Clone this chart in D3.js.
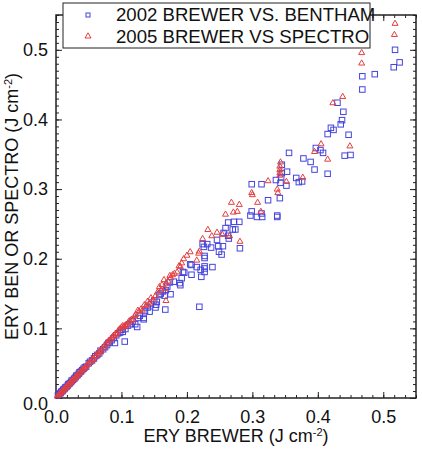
<!DOCTYPE html>
<html><head><meta charset="utf-8">
<script src="https://cdn.jsdelivr.net/npm/d3@7"></script>
<style>body{margin:0;background:#fff;}svg{display:block;font-family:"Liberation Sans",Arial,sans-serif;}</style>
</head><body><svg id="c" width="422" height="449"></svg>
<script>
// ---- data ----
const seriesNames = ["2002 BREWER VS. BENTHAM", "2005 BREWER VS SPECTRO"];
const xTicks = [0.0, 0.1, 0.2, 0.3, 0.4, 0.5];
const yTicks = [0.0, 0.1, 0.2, 0.3, 0.4, 0.5];
const axisRange = [0, 0.55];
const xTitle = "ERY BREWER (J cm";
const yTitle = "ERY BEN OR SPECTRO (J cm";
const unitExp = "-2";

// 2002 Brewer vs Bentham [ERY BREWER, ERY BENTHAM]
const bentham2002 = [
[0.003,0.004],[0.005,0.006],[0.007,0.007],[0.008,0.009],[0.010,0.010],[0.011,0.012],[0.013,0.013],[0.014,0.015],[0.016,0.016],[0.018,0.018],
[0.019,0.020],[0.021,0.021],[0.023,0.023],[0.024,0.025],[0.026,0.026],[0.028,0.028],[0.030,0.030],[0.031,0.032],[0.033,0.033],[0.035,0.035],
[0.036,0.037],[0.038,0.038],[0.040,0.040],[0.042,0.042],[0.044,0.044],[0.046,0.045],[0.050,0.050],[0.052,0.052],[0.055,0.054],[0.058,0.057],
[0.060,0.060],[0.063,0.062],[0.066,0.064],[0.068,0.068],[0.072,0.070],[0.075,0.073],[0.078,0.076],[0.080,0.079],[0.082,0.080],[0.085,0.083],
[0.088,0.086],[0.090,0.079],[0.092,0.090],[0.095,0.093],[0.098,0.094],[0.100,0.098],[0.102,0.095],[0.105,0.081],[0.106,0.099],[0.110,0.104],
[0.114,0.106],[0.117,0.110],[0.121,0.106],[0.124,0.102],[0.125,0.115],[0.128,0.118],[0.134,0.113],[0.134,0.115],[0.136,0.125],[0.140,0.130],
[0.143,0.124],[0.145,0.135],[0.150,0.140],[0.152,0.130],[0.153,0.134],[0.154,0.138],[0.158,0.148],[0.160,0.150],[0.163,0.153],[0.166,0.147],
[0.167,0.127],[0.168,0.155],[0.170,0.160],[0.174,0.166],[0.175,0.149],[0.180,0.167],[0.189,0.165],[0.190,0.162],[0.192,0.172],[0.194,0.181],
[0.196,0.180],[0.205,0.192],[0.207,0.177],[0.207,0.191],[0.215,0.188],[0.219,0.131],[0.221,0.184],[0.222,0.174],[0.224,0.221],[0.226,0.217],
[0.227,0.181],[0.227,0.186],[0.227,0.189],[0.227,0.201],[0.227,0.204],[0.231,0.221],[0.237,0.216],[0.239,0.188],[0.246,0.227],[0.248,0.218],
[0.249,0.210],[0.253,0.206],[0.255,0.218],[0.256,0.237],[0.259,0.244],[0.263,0.233],[0.263,0.252],[0.264,0.229],[0.270,0.242],[0.272,0.253],
[0.274,0.242],[0.280,0.253],[0.281,0.215],[0.297,0.262],[0.299,0.268],[0.299,0.307],[0.307,0.260],[0.314,0.265],[0.314,0.307],[0.315,0.260],
[0.324,0.284],[0.336,0.313],[0.338,0.260],[0.338,0.262],[0.342,0.287],[0.343,0.309],[0.344,0.317],[0.345,0.323],[0.345,0.335],[0.352,0.305],
[0.353,0.325],[0.356,0.352],[0.367,0.316],[0.371,0.310],[0.376,0.311],[0.378,0.344],[0.389,0.339],[0.395,0.328],[0.397,0.359],[0.404,0.356],
[0.408,0.352],[0.415,0.322],[0.415,0.379],[0.420,0.388],[0.424,0.385],[0.430,0.424],[0.435,0.393],[0.437,0.399],[0.439,0.411],[0.441,0.348],
[0.447,0.378],[0.450,0.349],[0.468,0.443],[0.468,0.462],[0.487,0.465],[0.516,0.475],[0.518,0.500],[0.525,0.482]
];
// 2005 Brewer vs Spectro [ERY BREWER, ERY SPECTRO]
const spectro2005 = [
[0.002,0.003],[0.004,0.005],[0.006,0.006],[0.007,0.008],[0.009,0.009],[0.010,0.011],[0.012,0.012],[0.013,0.014],[0.015,0.015],[0.016,0.017],
[0.018,0.018],[0.019,0.020],[0.021,0.021],[0.022,0.023],[0.024,0.024],[0.025,0.026],[0.027,0.027],[0.029,0.029],[0.030,0.031],[0.032,0.032],
[0.034,0.034],[0.035,0.036],[0.037,0.037],[0.039,0.039],[0.040,0.041],[0.042,0.042],[0.044,0.044],[0.046,0.046],[0.048,0.048],[0.051,0.051],
[0.053,0.053],[0.055,0.056],[0.057,0.055],[0.060,0.061],[0.062,0.060],[0.064,0.064],[0.066,0.067],[0.068,0.066],[0.070,0.071],[0.073,0.073],
[0.075,0.077],[0.078,0.079],[0.080,0.082],[0.083,0.084],[0.085,0.087],[0.087,0.089],[0.089,0.090],[0.091,0.093],[0.093,0.092],[0.095,0.097],
[0.098,0.100],[0.100,0.102],[0.102,0.104],[0.103,0.102],[0.104,0.103],[0.106,0.105],[0.108,0.106],[0.110,0.108],[0.112,0.111],[0.115,0.113],
[0.118,0.112],[0.120,0.118],[0.122,0.120],[0.125,0.126],[0.127,0.125],[0.130,0.128],[0.132,0.126],[0.135,0.134],[0.138,0.133],[0.140,0.139],
[0.143,0.136],[0.145,0.144],[0.149,0.141],[0.152,0.147],[0.155,0.152],[0.158,0.160],[0.160,0.155],[0.162,0.163],[0.165,0.170],[0.167,0.157],
[0.168,0.140],[0.168,0.165],[0.171,0.168],[0.174,0.176],[0.175,0.173],[0.178,0.177],[0.181,0.179],[0.185,0.181],[0.188,0.190],[0.190,0.189],
[0.192,0.194],[0.195,0.200],[0.200,0.205],[0.205,0.210],[0.215,0.198],[0.218,0.208],[0.219,0.211],[0.224,0.229],[0.232,0.242],[0.238,0.233],
[0.246,0.238],[0.254,0.235],[0.259,0.264],[0.265,0.233],[0.268,0.281],[0.271,0.267],[0.277,0.268],[0.280,0.278],[0.281,0.225],[0.299,0.295],
[0.300,0.292],[0.308,0.281],[0.313,0.268],[0.324,0.312],[0.338,0.300],[0.339,0.295],[0.342,0.320],[0.342,0.324],[0.342,0.328],[0.342,0.333],
[0.343,0.339],[0.352,0.311],[0.377,0.317],[0.395,0.354],[0.405,0.365],[0.415,0.343],[0.423,0.424],[0.438,0.433],[0.449,0.362],[0.467,0.481],
[0.467,0.496],[0.517,0.522],[0.518,0.538]
];

// ---- chart ----
const svg = d3.select("#c");
const L = 56, R = 416, T = 15, B = 398;
const x = d3.scaleLinear().domain(axisRange).range([L, R]);
const y = d3.scaleLinear().domain(axisRange).range([B, T]);
const blue = "#4444dc", red = "#e53e3e";
const fs = 18;

const minorX = d3.range(0, 34).map(i => i * 0.1 / 6).filter(v => v <= 0.5501);
const minorY = d3.range(0, 56).map(i => i * 0.01);

function styleAxis(g){ g.select(".domain").remove(); g.selectAll("line").attr("stroke","#222").attr("stroke-width",1); }

// minor ticks
svg.append("g").attr("transform",`translate(0,${B})`).call(d3.axisBottom(x).tickValues(minorX).tickSize(-3).tickFormat("")).call(styleAxis);
svg.append("g").attr("transform",`translate(0,${T})`).call(d3.axisTop(x).tickValues(minorX).tickSize(-3).tickFormat("")).call(styleAxis);
svg.append("g").attr("transform",`translate(${L},0)`).call(d3.axisLeft(y).tickValues(minorY).tickSize(-3).tickFormat("")).call(styleAxis);
svg.append("g").attr("transform",`translate(${R},0)`).call(d3.axisRight(y).tickValues(minorY).tickSize(-3).tickFormat("")).call(styleAxis);
// major ticks
svg.append("g").attr("transform",`translate(0,${B})`).call(d3.axisBottom(x).tickValues(xTicks).tickSize(-6).tickPadding(12).tickFormat(d3.format(".1f"))).call(styleAxis);
svg.append("g").attr("transform",`translate(0,${T})`).call(d3.axisTop(x).tickValues(xTicks).tickSize(-6).tickFormat("")).call(styleAxis);
const gy = svg.append("g").attr("transform",`translate(${L},0)`).call(d3.axisLeft(y).tickValues(yTicks).tickSize(-6).tickPadding(8).tickFormat(d3.format(".1f"))).call(styleAxis);
svg.append("g").attr("transform",`translate(${R},0)`).call(d3.axisRight(y).tickValues(yTicks).tickSize(-6).tickFormat("")).call(styleAxis);
svg.selectAll("g text").attr("font-size",fs).attr("font-family","Liberation Sans, Arial, sans-serif").attr("fill","#111");
gy.selectAll(".tick text").filter(d => d === 0).attr("dy","0.62em");

// frame
svg.append("rect").attr("x",L).attr("y",T).attr("width",R-L).attr("height",B-T)
  .attr("fill","none").attr("stroke","#222").attr("stroke-width",1.5);

// points
const sq = 5.5;
svg.append("g").selectAll("rect").data(bentham2002).join("rect")
  .attr("x",d=>x(d[0])-sq/2).attr("y",d=>y(d[1])-sq/2).attr("width",sq).attr("height",sq)
  .attr("fill","none").attr("stroke",blue).attr("stroke-width",1);
const tri = (cx,cy)=>`M${cx},${cy-3.2}L${cx+3},${cy+2}L${cx-3},${cy+2}Z`;
svg.append("g").selectAll("path").data(spectro2005).join("path")
  .attr("d",d=>tri(x(d[0]),y(d[1])))
  .attr("fill","none").attr("stroke",red).attr("stroke-width",1);

// axis titles
const xt = svg.append("text").attr("x",(L+R)/2).attr("y",442).attr("text-anchor","middle").attr("font-size",fs).attr("fill","#111");
xt.append("tspan").text(xTitle);
xt.append("tspan").attr("font-size",11).attr("dy",-6).text(unitExp);
xt.append("tspan").attr("dy",6).text(")");
const yt = svg.append("text").attr("transform",`translate(18,${(T+B)/2}) rotate(-90)`).attr("text-anchor","middle").attr("font-size",fs).attr("fill","#111");
yt.append("tspan").text(yTitle);
yt.append("tspan").attr("font-size",11).attr("dy",-6).text(unitExp);
yt.append("tspan").attr("dy",6).text(")");

// legend
const lg = svg.append("g");
lg.append("rect").attr("x",63).attr("y",3).attr("width",307).attr("height",45).attr("fill","#fff").attr("stroke","#222").attr("stroke-width",1);
lg.append("rect").attr("x",88-2).attr("y",15-2).attr("width",4).attr("height",4).attr("fill","none").attr("stroke",blue);
lg.append("path").attr("d",tri(88,36)).attr("fill","none").attr("stroke",red);
lg.append("text").attr("x",116).attr("y",20.5).attr("font-size",18.6).attr("fill","#111").text(seriesNames[0]);
lg.append("text").attr("x",116).attr("y",42.5).attr("font-size",18.6).attr("fill","#111").text(seriesNames[1]);
</script></body></html>
